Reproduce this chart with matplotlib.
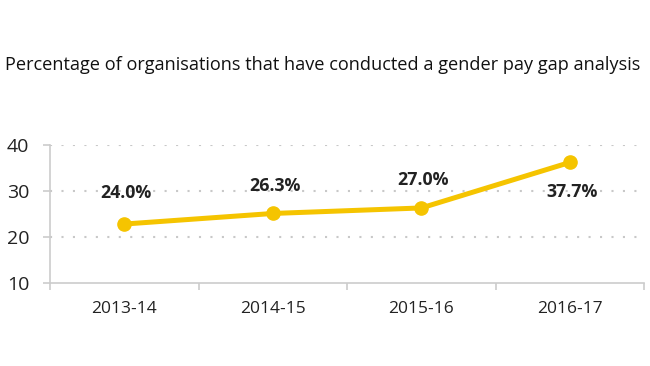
import numpy as np
import matplotlib
matplotlib.use("Agg")
from matplotlib import pyplot as plt

# data
years = ["2013-14", "2014-15", "2015-16", "2016-17"]
plotted = [22.8, 25.1, 26.3, 36.2]          # where the dots sit on the axis
labels = ["24.0%", "26.3%", "27.0%", "37.7%"]  # the printed values
label_dy = [31, 27, 28, -30]                # pixel offset of each label

yellow = "#f5c400"
grey = "#cccccc"

plt.rcParams["font.family"] = ["Open Sans", "DejaVu Sans"]

fig = plt.figure(figsize=(6.5, 3.66), dpi=100)
ax = fig.add_axes([0.077, 0.227, 0.914, 0.377])

x = np.arange(len(years))
ax.plot(x, plotted, color=yellow, lw=3.6, marker="o", ms=9.5, solid_capstyle="round", zorder=3)

for xi, yi, t, dy in zip(x, plotted, labels, label_dy):
    ax.annotate(t, (xi, yi), xytext=(2, dy), textcoords="offset pixels",
                ha="center", va="center", fontsize=12.8, fontweight="bold", color="#222222")

ax.set_xlim(-0.5, len(years) - 0.5)
ax.set_ylim(10, 40)
ax.set_yticks([10, 20, 30, 40])
ax.set_xticks(x)
ax.set_xticklabels(years)
ax.set_xticks(np.arange(-0.5, len(years)), minor=True)

for v in [20, 30, 40]:
    ax.axhline(v, color="#c8c8c8", lw=1.5, ls=(0, (1, 4.5)), zorder=1)

for s in ["top", "right"]:
    ax.spines[s].set_visible(False)
for s in ["left", "bottom"]:
    ax.spines[s].set_color(grey)
    ax.spines[s].set_linewidth(1.2)

ax.tick_params(axis="y", length=5, color=grey, width=1.2, labelsize=14, pad=10, labelcolor="#222222")
ax.tick_params(axis="x", which="major", length=0, labelsize=12.5, pad=13, labelcolor="#222222")
ax.tick_params(axis="x", which="minor", length=5, color=grey, width=1.2)

fig.text(0.008, 0.822, "Percentage of organisations that have conducted a gender pay gap analysis",
         fontsize=13.1, color="#111111", ha="left", va="center")

fig.savefig("out.png", dpi=100)
